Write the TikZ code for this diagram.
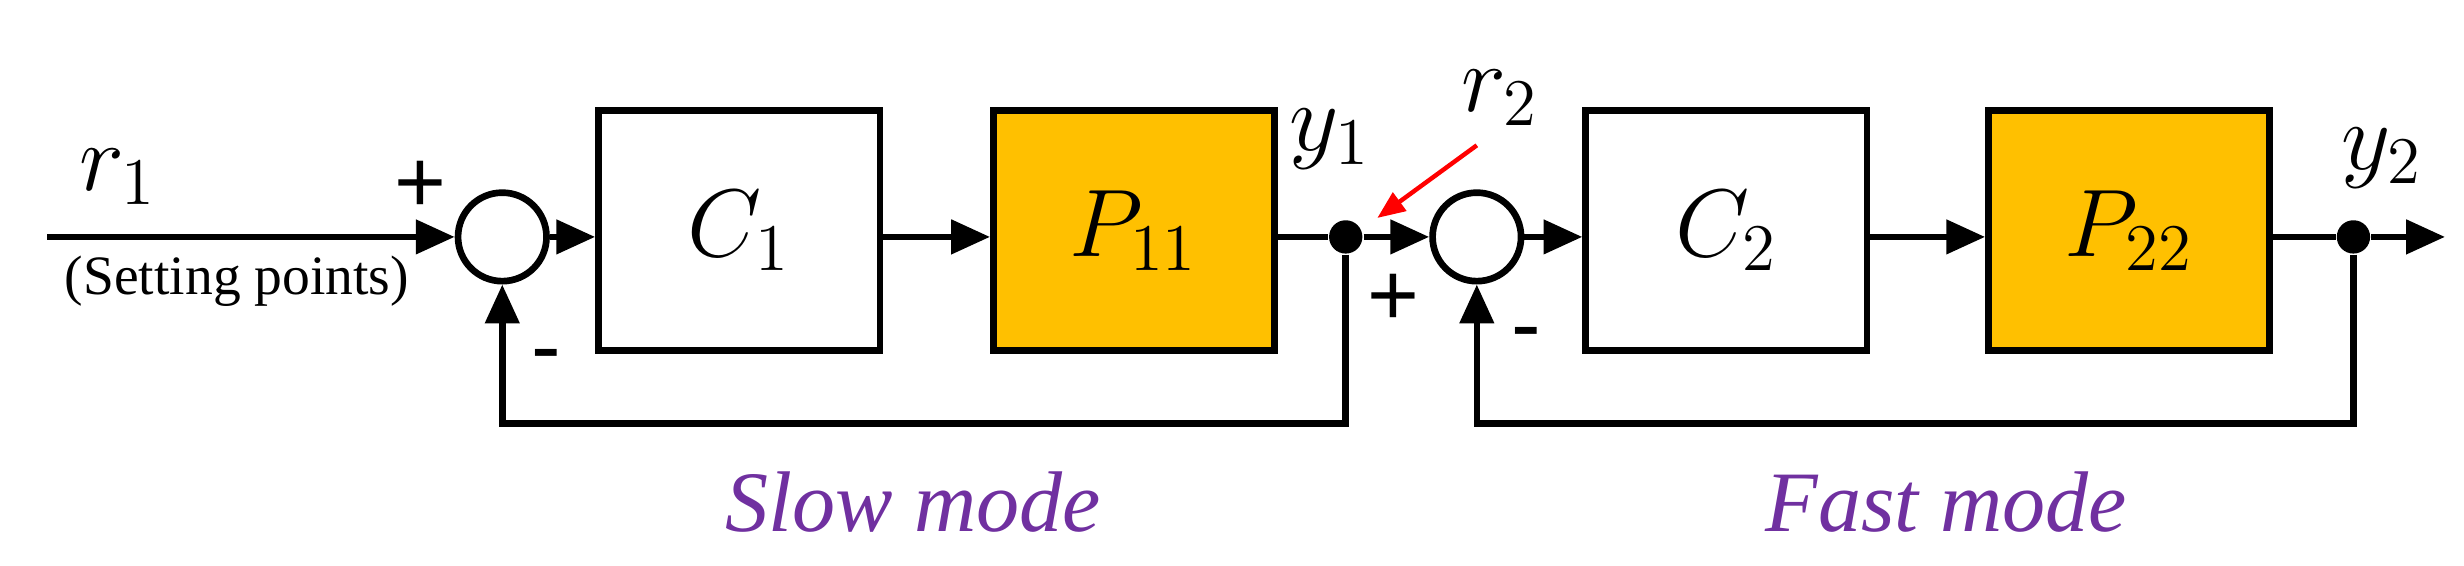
\documentclass[tikz,border=0pt]{standalone}
\usepackage{fontspec}
\setmainfont{Liberation Serif}
\newfontfamily\plusfont{Liberation Sans}
\usetikzlibrary{arrows.meta}
\definecolor{orng}{RGB}{255,192,0}
\definecolor{purp}{RGB}{112,48,160}
\begin{document}
\begin{tikzpicture}[x=0.01cm,y=-0.01cm,
  blk/.style={draw,line width=1.2pt,minimum width=1.78cm,minimum height=1.52cm,inner sep=0pt},
  sumc/.style={draw,circle,line width=1.2pt,minimum size=0.56cm,inner sep=0pt},
  ln/.style={line width=1.2pt,-{Triangle[length=7pt,width=6pt]}},
  fb/.style={line width=1.2pt},
  dotc/.style={circle,fill,inner sep=0pt,minimum size=6pt},
  big/.style={font=\fontsize{18}{20}\selectfont},
  sgn/.style={font=\plusfont\fontsize{16}{18}\selectfont},
  md/.style={font=\itshape\fontsize{15.5}{18}\selectfont,text=purp}]
\useasboundingbox (0,0) rectangle (1560,358);
\coordinate (in) at (30,150);
\node[sumc] (s1) at (318,150) {};
\node[blk] (c1) at (468,146) {};
\node[big] at (c1) {$C_1$};
\node[blk,fill=orng] (p1) at (718,146) {};
\node[big] at (p1) {$P_{11}$};
\node[dotc] (d1) at (852,150) {};
\node[sumc] (s2) at (935,150) {};
\node[blk] (c2) at (1093,146) {};
\node[big] at (c2) {$C_2$};
\node[blk,fill=orng] (p2) at (1348,146) {};
\node[big] at (p2) {$P_{22}$};
\node[dotc] (d2) at (1490,150) {};
\coordinate (out) at (1548,150);
\draw[ln] (in) -- (s1);
\draw[ln] (s1) -- (c1.west|-s1);
\draw[ln] (c1.east|-s1) -- (p1.west|-s1);
\draw[fb] (p1.east|-s1) -- (d1);
\draw[ln] (d1) -- (s2);
\draw[ln] (s2) -- (c2.west|-s2);
\draw[ln] (c2.east|-s2) -- (p2.west|-s2);
\draw[fb] (p2.east|-s2) -- (d2);
\draw[ln] (d2) -- (out);
\coordinate (f1) at (852,268);
\coordinate (f2) at (1490,268);
\draw[ln] (d1) -- (f1) -| (s1);
\draw[ln] (d2) -- (f2) -| (s2);
\node[big] at (75,112) {$r_1$};
\node[font=\fontsize{10}{12}\selectfont] at (150,178) {(Setting points)};
\node[sgn] at (266,118) {+};
\node[sgn] at (346,230) {-};
\node[big] at (842,88) {$y_1$};
\node[big] (r2) at (950,62) {$r_2$};
\draw[red,line width=0.8pt,-{Triangle[length=5pt,width=4pt]}] (935,92) -- (872,138);
\node[sgn] at (882,190) {+};
\node[sgn] at (966,216) {-};
\node[big] at (1508,100) {$y_2$};
\node[md] at (578,318) {Slow mode};
\node[md] at (1232,318) {Fast mode};
\end{tikzpicture}
\end{document}
